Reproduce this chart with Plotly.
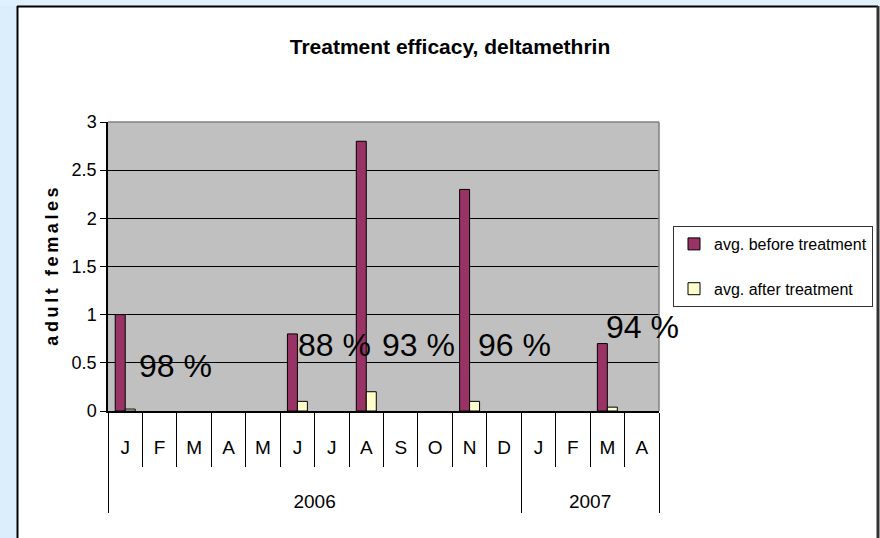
import plotly.graph_objects as go

# ---- data ----
years = ["2006"] * 12 + ["2007"] * 4
months = ["J", "F", "M", "A", "M", "J", "J", "A", "S", "O", "N", "D", "J", "F", "M", "A"]
before = [1.0, None, None, None, None, 0.8, None, 2.8, None, None, 2.3, None, None, None, 0.7, None]
after = [0.02, None, None, None, None, 0.1, None, 0.2, None, None, 0.1, None, None, None, 0.04, None]
efficacy_labels = ["98 %", "88 %", "93 %", "96 %", "94 %"]

# make duplicated month letters unique keys (surrounding spaces collapse when rendered);
# two blank trailing lines give the month row the height of the reference's label band
seen = {}
month_keys = []
for y, m in zip(years, months):
    k = (y, m)
    n = seen.get(k, 0)
    seen[k] = n + 1
    month_keys.append(" " * n + m + " " * n + "<br>\u00a0<br>\u00a0")

x = [years, month_keys]

W, H = 880, 538
L, R, T, B = 108, 659, 122, 411
pw, ph = R - L, B - T


def px(v):
    return (v - L) / pw


def py(v):
    return (B - v) / ph


FONT = "Liberation Sans, Arial, sans-serif"

fig = go.Figure()
fig.add_bar(x=x, y=before, name="avg. before treatment",
            marker=dict(color="#993366", line=dict(color="black", width=1)),
            legendgroup="a")
fig.add_bar(x=x, y=after, name="avg. after treatment",
            marker=dict(color="#FFFFCC", line=dict(color="black", width=1)),
            legendgroup="b")

# percent label positions (category index units, y data units)
lab_pos_x = [1.45, 6.07, 8.51, 11.3, 15.02]
lab_pos_y = [0.47, 0.685, 0.685, 0.685, 0.87]
for t, lx, ly in zip(efficacy_labels, lab_pos_x, lab_pos_y):
    fig.add_annotation(text=t, xref="x domain", yref="y",
                       x=(lx + 0.5) / 16, y=ly, showarrow=False,
                       font=dict(family=FONT, size=32, color="black"),
                       xanchor="center", yanchor="middle")

shapes = [
    # light blue frame areas
    dict(type="rect", xref="paper", yref="paper", x0=px(0), x1=px(17), y0=py(H + 5), y1=py(0),
         fillcolor="#DCEEFC", line=dict(width=0), layer="below"),
    dict(type="rect", xref="paper", yref="paper", x0=px(0), x1=px(W + 5), y0=py(6), y1=py(0),
         fillcolor="#E0F1FD", line=dict(width=0), layer="below"),
    # white chart border
    dict(type="line", xref="paper", yref="paper", x0=px(17.5), x1=px(17.5), y0=py(H + 5), y1=py(6),
         line=dict(color="black", width=2), layer="above"),
    dict(type="line", xref="paper", yref="paper", x0=px(17), x1=px(878), y0=py(6.5), y1=py(6.5),
         line=dict(color="black", width=2), layer="above"),
    dict(type="line", xref="paper", yref="paper", x0=px(878), x1=px(878), y0=py(H + 5), y1=py(6),
         line=dict(color="#333333", width=3), layer="above"),
    # plot area frame (top & right gray)
    dict(type="line", xref="x domain", yref="y domain", x0=0, x1=1, y0=1, y1=1,
         line=dict(color="#808080", width=1.5), layer="above"),
    dict(type="line", xref="x domain", yref="y domain", x0=1, x1=1, y0=0, y1=1,
         line=dict(color="#808080", width=1.5), layer="above"),
]

ytitle = "\u2009".join("adult females")

fig.update_layout(
    width=W, height=H,
    margin=dict(l=L, r=W - R, t=T, b=H - B, autoexpand=False),
    paper_bgcolor="white",
    plot_bgcolor="#C0C0C0",
    font=dict(family=FONT, size=17, color="black"),
    title=dict(text="<b>Treatment efficacy, deltamethrin</b>", x=450 / W, xanchor="center",
               y=1 - 47 / H, yanchor="middle",
               font=dict(family=FONT, size=21, color="black")),
    barmode="group", bargap=0.42, bargroupgap=0,
    showlegend=True,
    legend=dict(x=px(673), y=py(226), xanchor="left", yanchor="top",
                bordercolor="#333333", borderwidth=1, bgcolor="white",
                font=dict(family=FONT, size=16),
                traceorder="grouped", tracegroupgap=21, itemwidth=30),
    shapes=shapes,
    xaxis=dict(type="multicategory", showline=True, linecolor="black", linewidth=1.5,
               ticks="outside", tickson="boundaries", ticklen=54, tickcolor="black", tickwidth=1,
               ticklabelstandoff=18, tickangle=0, showgrid=False,
               dividercolor="black", dividerwidth=1,
               tickfont=dict(family=FONT, size=19)),
    yaxis=dict(range=[0, 3], dtick=0.5, showline=True, linecolor="black", linewidth=1.5,
               ticks="outside", ticklen=6, tickcolor="black",
               showgrid=True, gridcolor="black", gridwidth=1, zeroline=False,
               tickfont=dict(family=FONT, size=18),
               title=dict(text="<b>" + ytitle + "</b>", standoff=8,
                          font=dict(family=FONT, size=18))),
)

fig.write_html("out.html", config={"displayModeBar": False},
               post_script="document.body.style.margin='0';document.body.style.overflow='hidden';")
